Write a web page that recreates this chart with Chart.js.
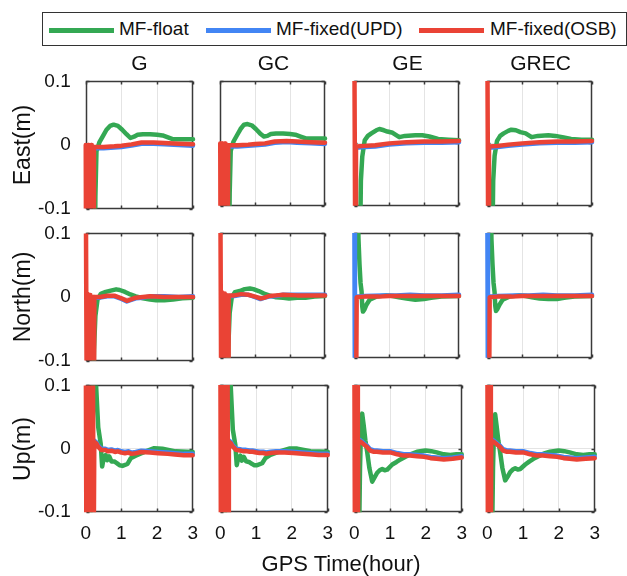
<!DOCTYPE html>
<html>
<head>
<meta charset="utf-8">
<script src="https://cdn.jsdelivr.net/npm/chart.js@4.4.0/dist/chart.umd.min.js"></script>
<style>
  body { margin: 0; background: #fff; width: 627px; height: 576px; overflow: hidden; position: relative;
         font-family: "Liberation Sans", Arial, Helvetica, sans-serif; color: #111; }
  canvas { position: absolute; }
  .txt { position: absolute; white-space: nowrap; line-height: 1; }
  #legend { position: absolute; left: 42px; top: 12px; width: 583px; height: 32px; border: 1px solid #333; background: #fff; }
  .sw { position: absolute; top: 15px; height: 5px; width: 65px; }
  .lt { position: absolute; top: 6px; font-size: 19px; line-height: 1; white-space: nowrap; }
</style>
</head>
<body>
<div id="legend"></div>
<script>
// series and axis labels
const seriesNames = ['MF-float', 'MF-fixed(UPD)', 'MF-fixed(OSB)'];
const seriesColors = ['#34a853', '#4285f4', '#ea4335'];
const systems = ['G', 'GC', 'GE', 'GREC'];
const components = ['East(m)', 'North(m)', 'Up(m)'];
const xTicks = [0, 1, 2, 3];
const yTicks = [-0.1, 0, 0.1];

// positioning errors, [hour, metre]
const eastG_float = [[0.25,-0.2],[0.27,-0.08],[0.3,-0.01],[0.38,0.004],[0.48,0.014],[0.58,0.024],[0.68,0.03],[0.78,0.032],[0.9,0.03],[1.02,0.024],[1.14,0.017],[1.25,0.011],[1.35,0.013],[1.45,0.016],[1.6,0.017],[1.8,0.017],[2.0,0.016],[2.15,0.015],[2.3,0.012],[2.45,0.009],[2.7,0.009],[3.0,0.009]];
const eastG_upd = [[0.23,-0.005],[0.5,-0.005],[0.8,-0.004],[1.0,-0.003],[1.28,-0.001],[1.56,0.002],[1.9,0.002],[2.2,0.001],[2.6,0.0],[3.0,-0.001]];
const eastG_osb = [[0,0],[0.01,-0.2],[0.03,-0.01],[0.05,-0.2],[0.07,0],[0.09,-0.2],[0.11,-0.01],[0.13,-0.2],[0.15,0],[0.17,-0.2],[0.19,-0.005],[0.21,-0.2],[0.23,-0.003],[0.5,-0.003],[0.8,-0.002],[1.0,-0.001],[1.28,0.001],[1.56,0.004],[1.9,0.004],[2.2,0.003],[2.6,0.002],[3.0,0.001]];

const eastGC_float = [[0.25,-0.2],[0.27,-0.08],[0.3,-0.012],[0.38,0.003],[0.48,0.013],[0.58,0.023],[0.68,0.03],[0.78,0.031],[0.9,0.029],[1.02,0.023],[1.14,0.016],[1.25,0.011],[1.35,0.012],[1.45,0.015],[1.6,0.016],[1.8,0.016],[2.0,0.015],[2.15,0.014],[2.3,0.011],[2.45,0.008],[2.7,0.008],[3.0,0.008]];
const eastGC_upd = [[0.23,-0.005],[0.5,-0.005],[0.8,-0.004],[1.0,-0.003],[1.28,-0.002],[1.56,0.001],[1.9,0.002],[2.2,0.001],[2.6,0.0],[3.0,-0.001]];
const eastGC_osb = [[0,0],[0.01,-0.2],[0.03,-0.01],[0.05,-0.2],[0.07,0],[0.09,-0.2],[0.11,-0.01],[0.13,-0.2],[0.15,0],[0.17,-0.2],[0.19,-0.005],[0.21,-0.2],[0.23,-0.003],[0.5,-0.003],[0.8,-0.002],[1.0,-0.001],[1.28,0.0],[1.56,0.003],[1.9,0.004],[2.2,0.003],[2.6,0.002],[3.0,0.001]];

const eastGE_float = [[0.16,-0.2],[0.19,-0.06],[0.23,-0.021],[0.3,0.005],[0.39,0.012],[0.49,0.016],[0.63,0.021],[0.72,0.023],[0.85,0.021],[0.95,0.019],[1.1,0.017],[1.29,0.01],[1.45,0.012],[1.75,0.013],[1.95,0.013],[2.15,0.011],[2.4,0.007],[2.7,0.006],[3.0,0.005]];
const eastGE_upd = [[0.05,-0.007],[0.3,-0.006],[0.6,-0.005],[1.0,-0.002],[1.5,0.0],[2.0,0.001],[2.5,0.001],[3.0,0.002]];
const eastGE_osb = [[0,0.2],[0.03,-0.2],[0.05,-0.005],[0.3,-0.004],[0.6,-0.003],[1.0,0.0],[1.5,0.002],[2.0,0.003],[2.5,0.003],[3.0,0.004]];

const eastGREC_float = [[0.14,-0.2],[0.17,-0.06],[0.21,-0.02],[0.28,0.004],[0.37,0.012],[0.47,0.016],[0.6,0.02],[0.69,0.022],[0.82,0.021],[0.95,0.018],[1.1,0.016],[1.27,0.01],[1.45,0.012],[1.75,0.013],[1.95,0.012],[2.15,0.01],[2.4,0.007],[2.7,0.006],[3.0,0.006]];
const eastGREC_upd = [[0.05,-0.007],[0.3,-0.006],[0.6,-0.004],[1.0,-0.002],[1.5,0.0],[2.0,0.001],[2.5,0.001],[3.0,0.002]];
const eastGREC_osb = [[0,0.2],[0.03,-0.2],[0.05,-0.005],[0.3,-0.004],[0.6,-0.002],[1.0,0.0],[1.5,0.002],[2.0,0.003],[2.5,0.003],[3.0,0.004]];

const northG_float = [[0.2,-0.2],[0.23,-0.084],[0.27,-0.03],[0.33,-0.004],[0.42,0.005],[0.56,0.008],[0.7,0.01],[0.85,0.012],[0.95,0.011],[1.1,0.008],[1.25,0.004],[1.4,0.001],[1.6,-0.002],[1.8,-0.004],[1.97,-0.005],[2.2,-0.005],[2.44,-0.004],[2.7,-0.002],[3.0,-0.001]];
const northG_upd = [[0.24,-0.001],[0.4,-0.001],[0.6,0.001],[0.8,0.001],[1.0,-0.003],[1.15,-0.007],[1.25,-0.005],[1.4,-0.002],[1.6,-0.001],[1.8,0.001],[2.2,0.001],[2.6,0.0],[3.0,0.001]];
const northG_osb = [[0,0.2],[0.03,-0.2],[0.05,0.005],[0.07,-0.2],[0.09,0.0],[0.11,-0.2],[0.13,0.003],[0.15,-0.2],[0.17,0.0],[0.19,-0.2],[0.21,0.0],[0.23,-0.2],[0.24,0.0],[0.4,0.0],[0.6,0.002],[0.8,0.002],[1.0,-0.002],[1.15,-0.006],[1.25,-0.004],[1.4,-0.001],[1.6,0.0],[1.8,0.001],[2.2,0.0],[2.6,0.0],[3.0,0.0]];

const northGC_float = [[0.2,-0.2],[0.23,-0.084],[0.27,-0.028],[0.33,-0.003],[0.42,0.005],[0.56,0.007],[0.7,0.01],[0.85,0.011],[0.95,0.01],[1.1,0.007],[1.25,0.003],[1.4,0.0],[1.6,-0.003],[1.8,-0.004],[1.97,-0.005],[2.2,-0.004],[2.44,-0.004],[2.7,-0.002],[3.0,-0.001]];
const northGC_upd = [[0.24,-0.001],[0.4,-0.001],[0.6,0.001],[0.8,0.001],[1.0,-0.003],[1.15,-0.006],[1.25,-0.004],[1.4,-0.002],[1.6,-0.001],[1.8,0.001],[2.2,0.001],[2.6,0.001],[3.0,0.001]];
const northGC_osb = [[0,0.2],[0.03,-0.2],[0.05,0.005],[0.07,-0.2],[0.09,0.0],[0.11,-0.2],[0.13,0.003],[0.15,-0.2],[0.17,0.0],[0.19,-0.2],[0.21,0.0],[0.23,-0.2],[0.24,0.0],[0.4,0.0],[0.6,0.002],[0.8,0.001],[1.0,-0.002],[1.15,-0.005],[1.25,-0.004],[1.4,-0.001],[1.6,0.0],[1.8,0.001],[2.2,0.0],[2.6,0.0],[3.0,0.0]];

const northGE_float = [[0.09,0.2],[0.12,0.092],[0.15,0.05],[0.18,0.02],[0.21,0.006],[0.23,-0.018],[0.25,-0.026],[0.29,-0.023],[0.35,-0.015],[0.44,-0.007],[0.63,-0.002],[0.91,0.0],[1.1,-0.001],[1.28,-0.003],[1.5,-0.005],[1.75,-0.007],[2.0,-0.006],[2.2,-0.004],[2.5,-0.002],[3.0,-0.001]];
const northGE_upd = [[0,0.2],[0.02,-0.2],[0.04,-0.002],[0.3,-0.001],[0.8,0.0],[1.2,0.0],[1.6,0.001],[2.0,0.0],[2.5,0.0],[3.0,0.001]];
const northGE_osb = [[0.05,-0.2],[0.07,-0.003],[0.3,-0.002],[0.7,-0.002],[1.0,-0.001],[1.5,-0.001],[2.0,-0.001],[2.5,-0.001],[3.0,-0.001]];

const northGREC_float = [[0.09,0.2],[0.12,0.09],[0.15,0.05],[0.18,0.02],[0.21,0.005],[0.23,-0.017],[0.25,-0.025],[0.29,-0.022],[0.35,-0.015],[0.44,-0.007],[0.63,-0.002],[0.91,0.0],[1.1,-0.001],[1.28,-0.003],[1.5,-0.005],[1.75,-0.006],[2.0,-0.006],[2.2,-0.004],[2.5,-0.002],[3.0,-0.001]];
const northGREC_upd = [[0,0.2],[0.02,-0.2],[0.04,-0.002],[0.3,-0.001],[0.8,0.0],[1.2,0.0],[1.6,0.001],[2.0,0.0],[2.5,0.0],[3.0,0.001]];
const northGREC_osb = [[0.05,-0.2],[0.07,-0.003],[0.3,-0.002],[0.7,-0.002],[1.0,-0.001],[1.5,-0.001],[2.0,-0.001],[2.5,-0.001],[3.0,-0.001]];

const upG_float = [[0.08,-0.2],[0.18,0.0],[0.25,0.2],[0.29,0.1],[0.35,0.034],[0.42,0.008],[0.46,-0.028],[0.5,-0.016],[0.56,-0.01],[0.6,-0.018],[0.66,-0.012],[0.72,-0.02],[0.8,-0.02],[0.88,-0.023],[0.95,-0.026],[1.03,-0.027],[1.17,-0.024],[1.26,-0.015],[1.4,-0.011],[1.68,-0.004],[1.92,0.001],[2.15,0.0],[2.52,-0.004],[3.0,-0.005]];
const upG_upd = [[0.24,0.013],[0.3,0.01],[0.35,0.005],[0.44,0.0],[0.55,0.0],[0.63,-0.002],[0.72,-0.001],[0.82,-0.003],[0.9,-0.002],[1.0,-0.004],[1.1,-0.005],[1.2,-0.004],[1.28,-0.006],[1.4,-0.005],[1.56,-0.003],[1.8,-0.004],[2.03,-0.005],[2.3,-0.006],[2.5,-0.007],[2.75,-0.008],[3.0,-0.008]];
const upG_osb = [[0,0.2],[0.02,-0.2],[0.04,0.2],[0.06,-0.2],[0.08,0.2],[0.1,-0.2],[0.12,0.2],[0.14,-0.2],[0.16,0.2],[0.18,-0.2],[0.2,0.2],[0.22,-0.2],[0.24,0.011],[0.3,0.008],[0.35,0.003],[0.44,-0.002],[0.55,-0.002],[0.63,-0.004],[0.72,-0.003],[0.82,-0.005],[0.9,-0.004],[1.0,-0.006],[1.1,-0.007],[1.2,-0.006],[1.28,-0.008],[1.4,-0.007],[1.56,-0.005],[1.8,-0.006],[2.03,-0.007],[2.3,-0.008],[2.5,-0.009],[2.75,-0.01],[3.0,-0.01]];

const upGC_float = [[0.08,-0.2],[0.18,0.0],[0.25,0.2],[0.29,0.1],[0.35,0.03],[0.42,0.006],[0.46,-0.026],[0.5,-0.015],[0.56,-0.011],[0.6,-0.019],[0.66,-0.013],[0.72,-0.02],[0.8,-0.021],[0.88,-0.024],[0.95,-0.026],[1.03,-0.026],[1.17,-0.023],[1.26,-0.015],[1.4,-0.01],[1.68,-0.004],[1.92,0.0],[2.15,0.0],[2.52,-0.004],[3.0,-0.005]];
const upGC_upd = [[0.24,0.013],[0.3,0.01],[0.35,0.005],[0.44,0.0],[0.55,-0.001],[0.63,-0.002],[0.72,-0.002],[0.82,-0.003],[0.9,-0.003],[1.0,-0.004],[1.1,-0.005],[1.2,-0.005],[1.28,-0.006],[1.4,-0.005],[1.56,-0.004],[1.8,-0.004],[2.03,-0.005],[2.3,-0.006],[2.5,-0.007],[2.75,-0.008],[3.0,-0.008]];
const upGC_osb = [[0,0.2],[0.02,-0.2],[0.04,0.2],[0.06,-0.2],[0.08,0.2],[0.1,-0.2],[0.12,0.2],[0.14,-0.2],[0.16,0.2],[0.18,-0.2],[0.2,0.2],[0.22,-0.2],[0.24,0.011],[0.3,0.008],[0.35,0.003],[0.44,-0.002],[0.55,-0.003],[0.63,-0.004],[0.72,-0.004],[0.82,-0.005],[0.9,-0.005],[1.0,-0.006],[1.1,-0.007],[1.2,-0.007],[1.28,-0.008],[1.4,-0.007],[1.56,-0.006],[1.8,-0.006],[2.03,-0.007],[2.3,-0.008],[2.5,-0.009],[2.75,-0.01],[3.0,-0.01]];

const upGE_float = [[0.12,-0.2],[0.16,-0.03],[0.19,0.035],[0.22,0.055],[0.26,0.038],[0.31,0.013],[0.36,-0.005],[0.42,-0.03],[0.5,-0.052],[0.57,-0.045],[0.64,-0.038],[0.71,-0.034],[0.78,-0.032],[0.85,-0.034],[0.92,-0.033],[1.06,-0.025],[1.18,-0.021],[1.29,-0.017],[1.43,-0.013],[1.57,-0.009],[1.75,-0.005],[1.99,-0.003],[2.15,-0.004],[2.3,-0.006],[2.5,-0.009],[2.68,-0.01],[2.85,-0.009],[3.0,-0.009]];
const upGE_upd = [[0.11,0.015],[0.17,0.013],[0.28,0.008],[0.35,0.005],[0.44,-0.001],[0.55,-0.003],[0.63,-0.003],[0.8,-0.004],[1.0,-0.004],[1.2,-0.007],[1.38,-0.009],[1.55,-0.009],[1.75,-0.01],[1.95,-0.011],[2.13,-0.013],[2.3,-0.014],[2.5,-0.015],[2.75,-0.014],[3.0,-0.012]];
const upGE_osb = [[0,0.2],[0.02,-0.2],[0.04,0.2],[0.06,-0.2],[0.08,0.2],[0.1,-0.2],[0.11,0.013],[0.17,0.011],[0.28,0.006],[0.35,0.003],[0.44,-0.003],[0.55,-0.005],[0.63,-0.005],[0.8,-0.006],[1.0,-0.006],[1.2,-0.009],[1.38,-0.011],[1.55,-0.011],[1.75,-0.012],[1.95,-0.013],[2.13,-0.015],[2.3,-0.016],[2.5,-0.017],[2.75,-0.016],[3.0,-0.014]];

const upGREC_float = [[0.12,-0.2],[0.16,-0.03],[0.19,0.035],[0.22,0.054],[0.26,0.036],[0.31,0.012],[0.36,-0.006],[0.42,-0.03],[0.5,-0.05],[0.57,-0.044],[0.64,-0.037],[0.71,-0.033],[0.78,-0.031],[0.85,-0.033],[0.92,-0.032],[1.06,-0.025],[1.18,-0.02],[1.29,-0.016],[1.43,-0.012],[1.57,-0.008],[1.75,-0.005],[1.99,-0.003],[2.15,-0.004],[2.3,-0.006],[2.5,-0.009],[2.68,-0.01],[2.85,-0.009],[3.0,-0.009]];
const upGREC_upd = [[0.11,0.015],[0.17,0.013],[0.28,0.008],[0.35,0.005],[0.44,-0.001],[0.55,-0.003],[0.63,-0.003],[0.8,-0.004],[1.0,-0.004],[1.2,-0.007],[1.38,-0.009],[1.55,-0.009],[1.75,-0.01],[1.95,-0.011],[2.13,-0.013],[2.3,-0.014],[2.5,-0.015],[2.75,-0.014],[3.0,-0.013]];
const upGREC_osb = [[0,0.2],[0.02,-0.2],[0.04,0.2],[0.06,-0.2],[0.08,0.2],[0.1,-0.2],[0.11,0.013],[0.17,0.011],[0.28,0.006],[0.35,0.003],[0.44,-0.003],[0.55,-0.005],[0.63,-0.005],[0.8,-0.006],[1.0,-0.006],[1.2,-0.009],[1.38,-0.011],[1.55,-0.011],[1.75,-0.012],[1.95,-0.013],[2.13,-0.015],[2.3,-0.016],[2.5,-0.017],[2.75,-0.016],[3.0,-0.015]];

const grid = [
  [[eastG_float, eastG_upd, eastG_osb], [eastGC_float, eastGC_upd, eastGC_osb], [eastGE_float, eastGE_upd, eastGE_osb], [eastGREC_float, eastGREC_upd, eastGREC_osb]],
  [[northG_float, northG_upd, northG_osb], [northGC_float, northGC_upd, northGC_osb], [northGE_float, northGE_upd, northGE_osb], [northGREC_float, northGREC_upd, northGREC_osb]],
  [[upG_float, upG_upd, upG_osb], [upGC_float, upGC_upd, upGC_osb], [upGE_float, upGE_upd, upGE_osb], [upGREC_float, upGREC_upd, upGREC_osb]]
];

// layout of the 3x4 panel grid
const colLeft = [86, 220, 354, 487];
const rowTop = [81, 233, 385];
const PW = 107, PH = 127;

// box around each axes with short inward ticks, drawn under the lines
const frame = {
  id: 'frame',
  beforeDatasetsDraw(chart) {
    const { ctx, chartArea: a, scales } = chart;
    const l = Math.round(a.left) + 0.5, t = Math.round(a.top) + 0.5;
    const r = Math.round(a.right) - 0.5, b = Math.round(a.bottom) - 0.5;
    ctx.save();
    ctx.strokeStyle = '#3a3a3a';
    ctx.lineWidth = 1.5;
    ctx.strokeRect(l, t, r - l, b - t);
    ctx.beginPath();
    xTicks.forEach(v => {
      const x = Math.round(scales.x.getPixelForValue(v)) + 0.5;
      ctx.moveTo(x, t); ctx.lineTo(x, t + 3);
      ctx.moveTo(x, b); ctx.lineTo(x, b - 3);
    });
    yTicks.forEach(v => {
      const y = Math.round(scales.y.getPixelForValue(v)) + 0.5;
      ctx.moveTo(l, y); ctx.lineTo(l + 3, y);
      ctx.moveTo(r, y); ctx.lineTo(r - 3, y);
    });
    ctx.stroke();
    ctx.restore();
  }
};

function makePanel(row, col, series) {
  const cv = document.createElement('canvas');
  cv.width = 200;
  cv.height = 200;
  document.body.appendChild(cv);

  const chart = new Chart(cv, {
    type: 'line',
    data: {
      datasets: series.map((pts, i) => ({
        label: seriesNames[i],
        data: pts.map(p => ({ x: p[0], y: p[1] })),
        borderColor: seriesColors[i],
        borderWidth: 4.5,
        borderJoinStyle: 'round',
        borderCapStyle: 'round',
        pointRadius: 0,
        tension: 0,
        order: 2 - i,
        clip: { left: 3, right: 3, top: 0, bottom: 0 }
      }))
    },
    options: {
      responsive: false,
      maintainAspectRatio: false,
      animation: false,
      events: [],
      layout: { padding: { top: 12, right: 12, left: 0, bottom: 0 } },
      plugins: { legend: { display: false }, tooltip: { enabled: false } },
      scales: {
        x: {
          type: 'linear', min: 0, max: 3,
          afterBuildTicks: s => { s.ticks = xTicks.map(v => ({ value: v })); },
          border: { display: false },
          grid: {
            drawTicks: false,
            color: c => (c.tick && c.tick.value > 0 && c.tick.value < 3) ? '#e4e4e4' : 'rgba(0,0,0,0)'
          },
          ticks: {
            display: row === 2, padding: 10, autoSkip: false, maxRotation: 0,
            color: '#111', font: { family: '"Liberation Sans", Arial', size: 19 },
            callback: v => String(v)
          }
        },
        y: {
          type: 'linear', min: -0.1, max: 0.1,
          afterBuildTicks: s => { s.ticks = yTicks.map(v => ({ value: v })); },
          border: { display: false },
          grid: {
            drawTicks: false,
            color: c => (c.tick && c.tick.value === 0) ? '#e4e4e4' : 'rgba(0,0,0,0)'
          },
          ticks: {
            display: col === 0, padding: 15,
            color: '#111', font: { family: '"Liberation Sans", Arial', size: 19 },
            callback: v => (v === 0 ? '0' : v.toFixed(1))
          }
        }
      }
    },
    plugins: [frame]
  });

  // size the canvas so the plot area is PW x PH, then place that area on the page
  const a = chart.chartArea;
  const mL = a.left, mT = a.top, mR = chart.width - a.right, mB = chart.height - a.bottom;
  chart.resize(Math.round(mL + PW + mR), Math.round(mT + PH + mB));
  const b = chart.chartArea;
  cv.style.left = Math.round(colLeft[col] - b.left) + 'px';
  cv.style.top = Math.round(rowTop[row] - b.top) + 'px';
}

grid.forEach((rowData, r) => rowData.forEach((series, c) => makePanel(r, c, series)));

// text around the panels
function addText(str, x, y, size, rotate) {
  const d = document.createElement('div');
  d.className = 'txt';
  d.textContent = str;
  d.style.fontSize = size + 'px';
  d.style.left = x + 'px';
  d.style.top = y + 'px';
  d.style.transform = 'translate(-50%,-50%)' + (rotate ? ' rotate(-90deg)' : '');
  document.body.appendChild(d);
}
systems.forEach((s, c) => addText(s, colLeft[c] + PW / 2, 62, 21, false));
components.forEach((s, r) => addText(s, 22, rowTop[r] + PH / 2, 23, true));
addText('GPS Time(hour)', 341, 564, 22, false);

// legend
const legend = document.getElementById('legend');
const swatchLeft = [6, 163, 376];
const labelLeft = [76, 233, 447];
seriesNames.forEach((name, i) => {
  const sw = document.createElement('div');
  sw.className = 'sw';
  sw.style.left = swatchLeft[i] + 'px';
  sw.style.background = seriesColors[i];
  legend.appendChild(sw);
  const t = document.createElement('div');
  t.className = 'lt';
  t.style.left = labelLeft[i] + 'px';
  t.textContent = name;
  legend.appendChild(t);
});
</script>
</body>
</html>
